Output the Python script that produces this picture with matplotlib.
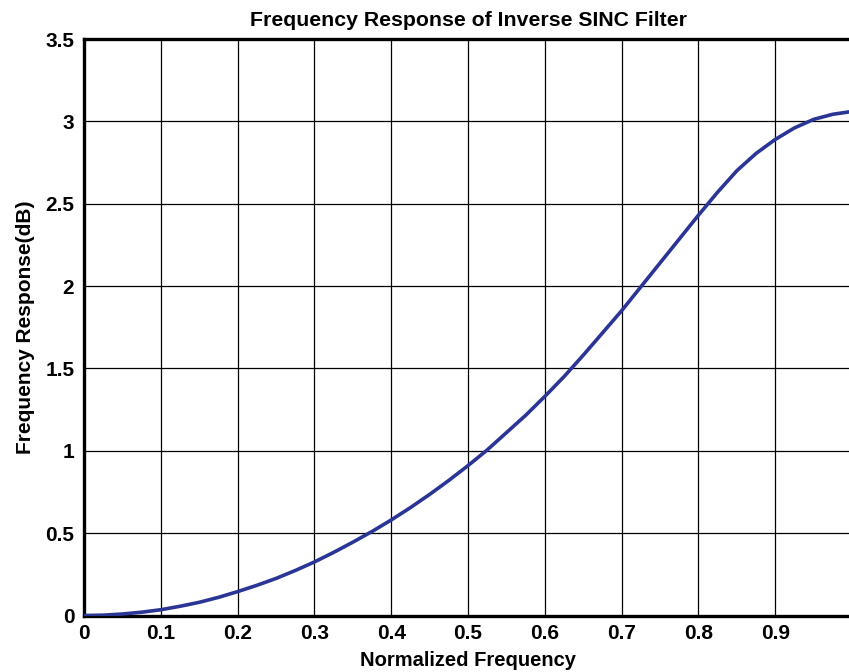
import numpy as np
import matplotlib
matplotlib.use("Agg")
import matplotlib.pyplot as plt

# values
freq = [0.0, 0.025, 0.05, 0.075, 0.1, 0.125, 0.15, 0.175, 0.2, 0.225,
        0.25, 0.275, 0.3, 0.325, 0.35, 0.375, 0.4, 0.425, 0.45, 0.475,
        0.5, 0.525, 0.55, 0.575, 0.6, 0.625, 0.65, 0.675, 0.7, 0.725,
        0.75, 0.775, 0.8, 0.825, 0.85, 0.875, 0.9, 0.925, 0.95, 0.975, 1.0]
resp_db = [0.0, 0.002, 0.009, 0.02, 0.035, 0.056, 0.08, 0.11, 0.145, 0.183,
           0.225, 0.273, 0.325, 0.383, 0.445, 0.51, 0.58, 0.655, 0.735, 0.82,
           0.91, 1.005, 1.11, 1.215, 1.33, 1.45, 1.58, 1.715, 1.85, 1.995,
           2.14, 2.285, 2.43, 2.57, 2.70, 2.805, 2.89, 2.96, 3.012, 3.043, 3.06]

x_ticks = [0, 0.1, 0.2, 0.3, 0.4, 0.5, 0.6, 0.7, 0.8, 0.9]
x_labels = ["0", "0.1", "0.2", "0.3", "0.4", "0.5", "0.6", "0.7", "0.8", "0.9"]
y_ticks = [0, 0.5, 1, 1.5, 2, 2.5, 3, 3.5]
y_labels = ["0", "0.5", "1", "1.5", "2", "2.5", "3", "3.5"]

plt.rcParams["font.family"] = ["Liberation Sans", "DejaVu Sans"]
plt.rcParams["font.weight"] = "bold"

fig = plt.figure(figsize=(8.49, 6.72), dpi=100)
ax = fig.add_axes([84 / 849, 1 - 615.5 / 672, (852 - 84) / 849, (615.5 - 39) / 672])

ax.plot(freq, resp_db, color="#2b3595", lw=2.6, solid_capstyle="round", zorder=3)

ax.set_xlim(0, 1)
ax.set_ylim(0, 3.5)
ax.set_xticks(x_ticks)
ax.set_xticklabels(x_labels)
ax.set_yticks(y_ticks)
ax.set_yticklabels(y_labels)
ax.tick_params(length=0, labelsize=15, pad=6)
ax.tick_params(axis="y", pad=7)
ax.grid(True, color="black", lw=0.9)

for s in ax.spines.values():
    s.set_linewidth(2.4)
    s.set_color("black")

ax.set_title("Frequency Response of Inverse SINC Filter", fontsize=15.3,
             fontweight="bold", pad=9, x=(468 - 84) / 768)
ax.set_xlabel("Normalized Frequency", fontsize=14.5, fontweight="bold", labelpad=6)
ax.set_ylabel("Frequency Response(dB)", fontsize=15, fontweight="bold", labelpad=7)

fig.savefig("out.png", dpi=100)
